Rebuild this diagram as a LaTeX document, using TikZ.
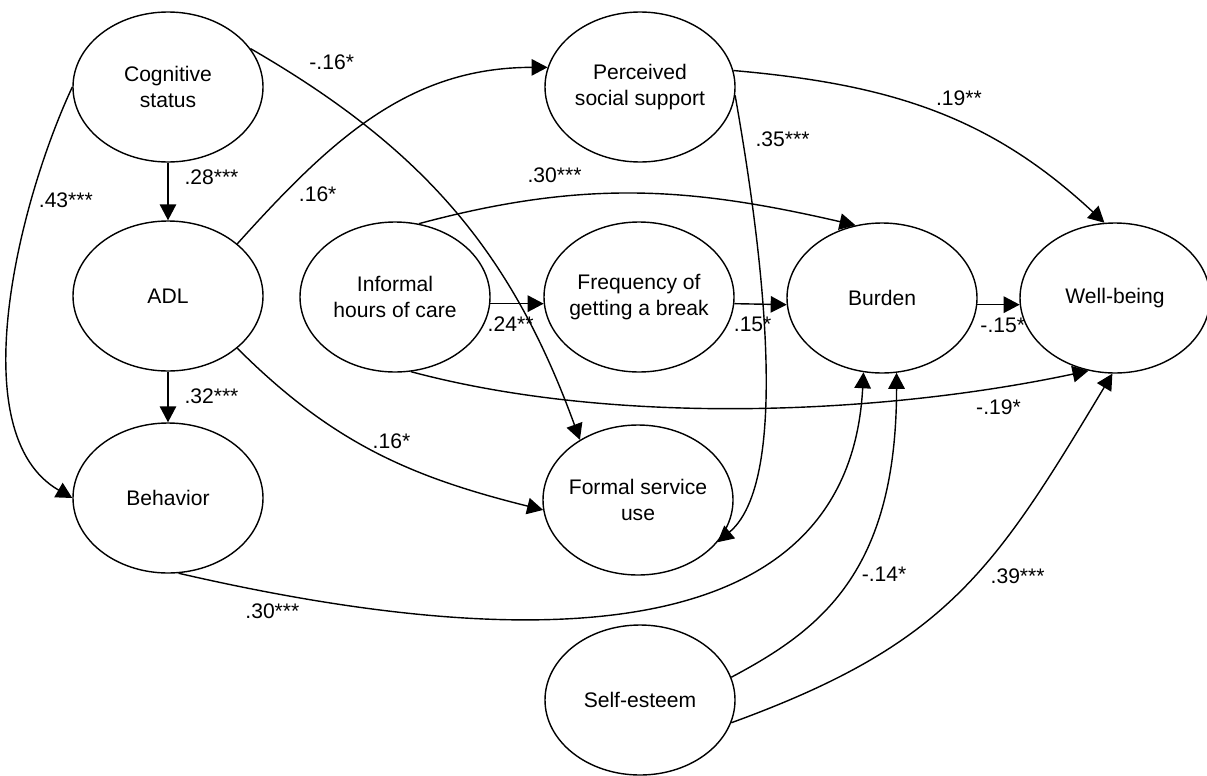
\documentclass[tikz,border=0pt]{standalone}
\usepackage{fontspec}
\setmainfont{Liberation Sans}
\usepackage{tikz}
\usetikzlibrary{shapes.geometric,arrows.meta}

\begin{document}
\begin{tikzpicture}[font=\fontsize{12}{14.8}\selectfont, line width=0.8pt,
  >={Triangle[length=3.2mm,width=3.3mm]},
  latent/.style={ellipse, draw, minimum width=3.8cm, minimum height=3cm, inner sep=-3pt, align=center},
  coef/.style={inner sep=4pt}]
\useasboundingbox (0,0) rectangle (24.14,-15.5);
\node[latent] (cog) at (3.36,-1.74) {Cognitive\\status};
\node[latent] (pss) at (12.8,-1.74) {Perceived\\social support};
\node[latent] (adl) at (3.36,-5.92) {ADL};
\node[latent] (ihc) at (7.9,-5.94) {Informal\\hours of care};
\node[latent] (freq) at (12.78,-5.94) {Frequency of\\getting a break};
\node[latent] (burden) at (17.64,-5.96) {Burden};
\node[latent] (wb) at (22.3,-5.96) {Well-being};
\node[latent] (beh) at (3.36,-9.96) {Behavior};
\node[latent] (fsu) at (12.76,-10) {Formal service\\use};
\node[latent] (se) at (12.8,-14) {Self-esteem};
\draw [->] (cog) -- (adl) node[coef, pos=0.25, right=5pt] (c28) {.28***};
\draw [->] (adl) -- (beh) node[coef, pos=0.48, right=5pt] (c32) {.32***};
\draw [->] (cog.west) to[out=-115, in=150, looseness=0.8] node[coef, pos=0.27, right] (c43) {.43***} (beh.west);
\draw [->] (cog.25) to[out=-30, in=110] node[coef, pos=0.17, above=13pt] (c16a) {-.16*} (fsu.134);
\draw [->] (adl.37) to[out=48, in=180] node[coef, pos=0.21, below right=-2pt] (c16b) {.16*} (pss.168);
\draw [->] (adl.-37) to[out=-45, in=166] node[coef, pos=0.55, above=2pt] (c16c) {.16*} (fsu.186);
\draw [->] (pss.10) to[out=-5, in=137] node[coef, pos=0.57, above=5pt] (c19) {.19**} (wb.98);
\draw [->] (pss.-5) to[out=-80, in=40, looseness=0.6] node[coef, pos=0.12, right=3pt] (c35) {.35***} (fsu.-28);
\draw [->] (ihc.-4) -- (freq.184) node[coef, pos=0.38, below=3pt] (c24) {.24**};
\draw [->] (freq.-4) -- (burden.184) node[coef, pos=0.35, below=3pt] (c15) {.15*};
\draw [->] (burden.-4) -- (wb.184) node[coef, pos=0.6, below=3pt] (c15n) {-.15*};
\draw [->] (ihc.72) to[out=15, in=167] node[coef, pos=0.3, above=4pt] (c30a) {.30***} (burden.110);
\draw [->] (ihc.-78) to[out=-15, in=192, looseness=0.8] node[coef, pos=0.86, below=3pt] (c19n) {-.19*} (wb.-110);
\draw [->] (beh.-82) to[out=-13, in=-93, out distance=5.6cm, in distance=6.2cm] node[coef, pos=0.11, below=2pt] (c30b) {.30***} (burden.-104);
\draw [->] (se.14) to[out=28, in=-90, out distance=2cm, in distance=4cm] node[coef, pos=0.53, right=1pt] (c14n) {-.14*} (burden.-79);
\draw [->] (se.-14) to[out=20, in=-121, out distance=4.6cm, in distance=4.6cm] node[coef, pos=0.55, right=5pt] (c39) {.39***} (wb.-92);
\end{tikzpicture}
\end{document}
